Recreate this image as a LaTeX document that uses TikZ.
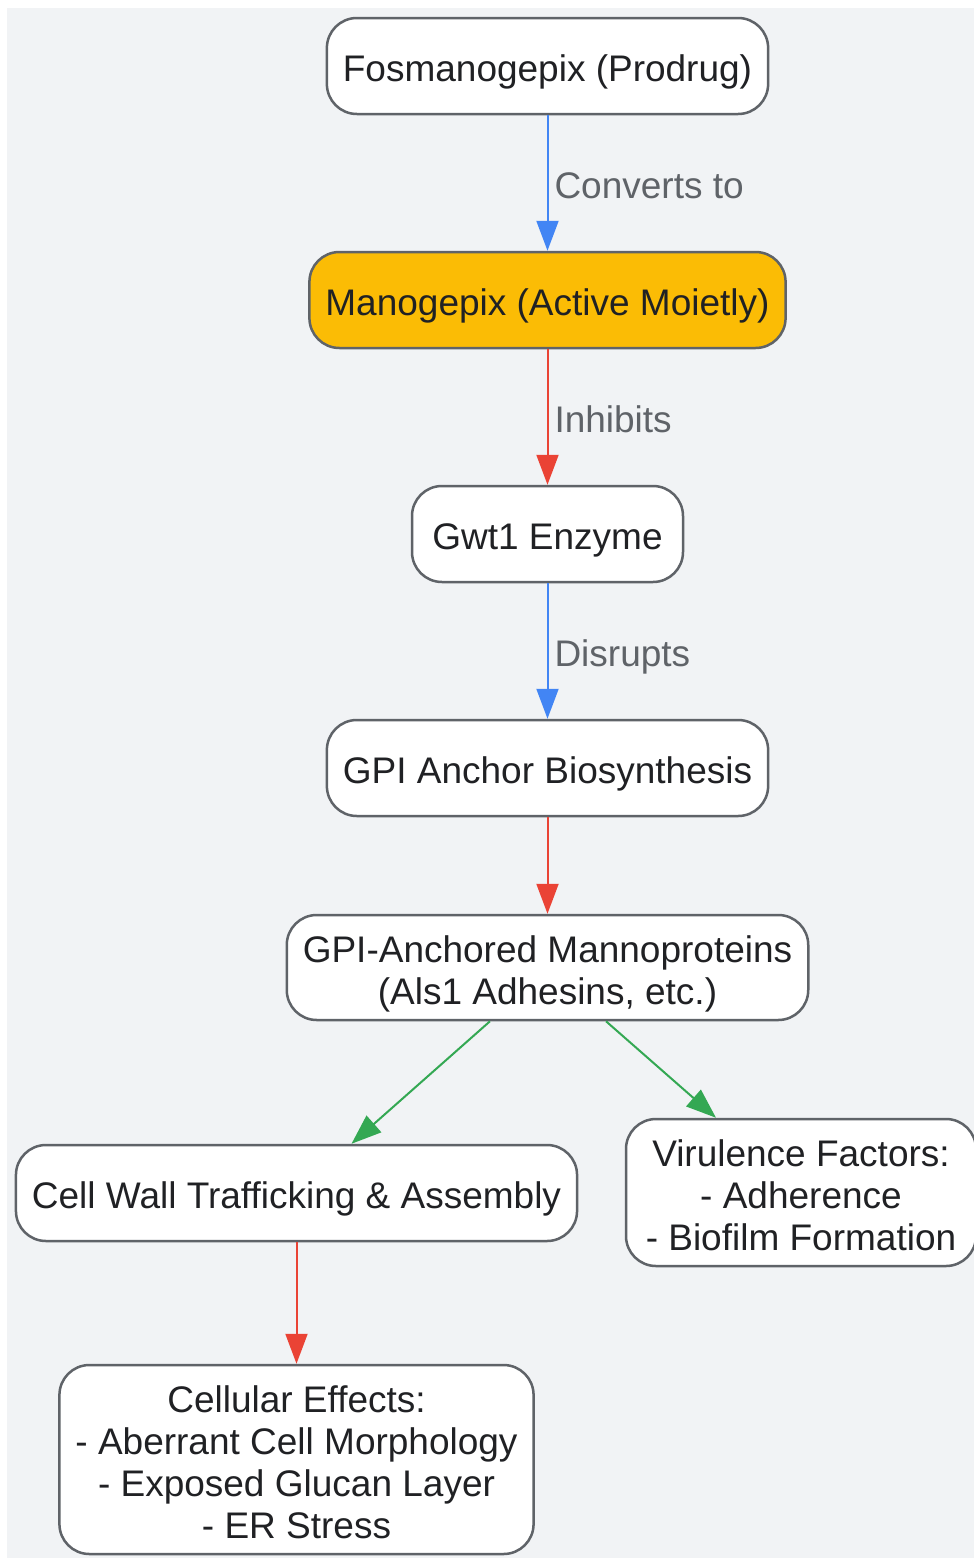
\documentclass[tikz,border=0pt]{standalone}
\usepackage{fontspec}
\setmainfont{Liberation Sans}
\usetikzlibrary{arrows.meta}

\definecolor{canvas}{HTML}{F1F3F5}
\definecolor{boxline}{HTML}{5F6368}
\definecolor{ink}{HTML}{202124}
\definecolor{tagtext}{HTML}{5F6368}
\definecolor{drugfill}{HTML}{FBBC05}
\definecolor{linkblue}{HTML}{4285F4}
\definecolor{linkred}{HTML}{EA4335}
\definecolor{linkgreen}{HTML}{34A853}

\begin{document}
\begin{tikzpicture}[x=1pt,y=-1pt,
  box/.style={rectangle,draw=boxline,line width=2.5pt,fill=white,rounded corners=30pt,
    align=center,inner xsep=16pt,inner ysep=8pt,minimum height=96pt,text=ink,
    font=\fontsize{37}{42}\selectfont,text height=36.5pt,text depth=5.5pt},
  lines/.style={text height=36.5pt+42pt*(#1-1)},
  drug/.style={box,fill=drugfill},
  link/.style={line width=2pt,-{Triangle[length=30pt,width=22pt]}},
  tag/.style={right,inner sep=6pt,text=tagtext,font=\fontsize{37}{42}\selectfont,
    text height=36.5pt,text depth=5.5pt}]
    \useasboundingbox (0,0) rectangle (974,1558);
    \fill[canvas] (7,8) rectangle (974,1558);
    % Main chain
    \node[box] (fos) at (547.5,66) {Fosmanogepix (Prodrug)};
    \node[drug] (mano) at (547.5,300) {Manogepix (Active Moietly)};
    \node[box,minimum width=271pt] (gwt) at (547.5,534) {Gwt1 Enzyme};
    \node[box] (gpi) at (547.5,768) {GPI Anchor Biosynthesis};
    \node[box,lines=2,minimum height=105pt] (gam) at (547.5,967.5)
      {GPI-Anchored Mannoproteins\\(Als1 Adhesins, etc.)};
    % Consequences
    \node[box] (cw) at (296.5,1193) {Cell Wall Trafficking \& Assembly};
    \node[box,lines=3,minimum height=147pt,minimum width=350pt] (vir) at (801,1192.5)
      {Virulence Factors:\\- Adherence\\- Biofilm Formation};
    \node[box,lines=4,minimum height=189pt] (eff) at (296.5,1459.5)
      {Cellular Effects:\\- Aberrant Cell Morphology\\- Exposed Glucan Layer\\- ER Stress};
    % Links
    \draw[link,linkblue] (fos) -- node[tag] {Converts to} (mano);
    \draw[link,linkred] (mano) -- node[tag] {Inhibits} (gwt);
    \draw[link,linkblue] (gwt) -- node[tag] {Disrupts} (gpi);
    \draw[link,linkred] (gpi) -- (gam);
    \draw[link,linkgreen] ([xshift=-57.5pt]gam.south) -- ([xshift=55pt]cw.north);
    \draw[link,linkgreen] ([xshift=58.5pt]gam.south) -- ([xshift=-85pt]vir.north);
    \draw[link,linkred] (cw) -- (eff);
\end{tikzpicture}
\end{document}
